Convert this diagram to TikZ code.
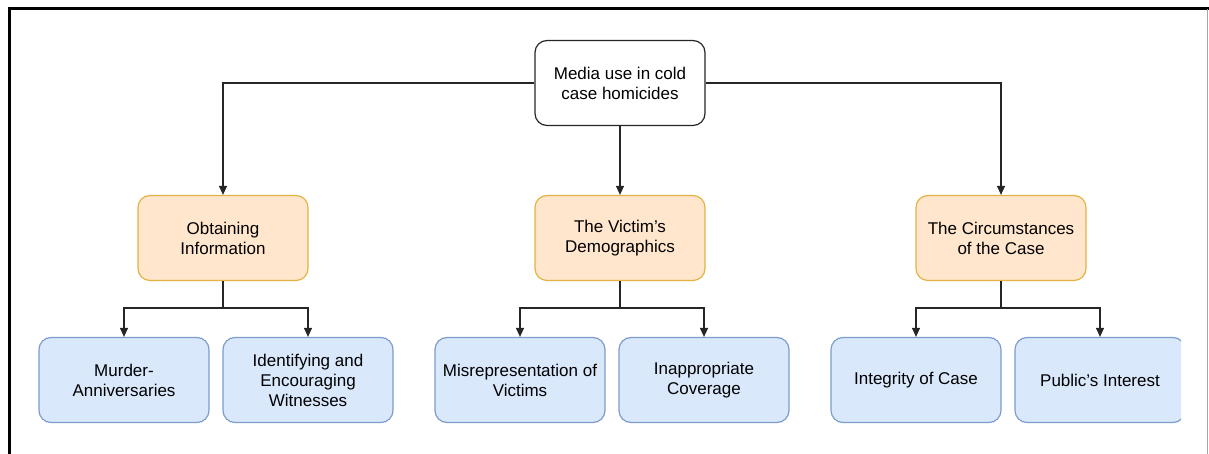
\documentclass[tikz,border=0pt]{standalone}
\usepackage{fontspec}
\setmainfont{Liberation Sans}
\usetikzlibrary{positioning,arrows.meta}
\definecolor{themefill}{HTML}{FFE6CC}
\definecolor{themeline}{HTML}{E3B341}
\definecolor{subfill}{HTML}{DAE8FC}
\definecolor{subline}{HTML}{7C9CCB}
\begin{document}
\begin{tikzpicture}[
  x=1pt, y=-1pt,
  box/.style={rectangle, rounded corners=12pt, minimum width=170pt, minimum height=85pt, align=center, line width=1.2pt, font=\fontsize{17}{20}\selectfont},
  root/.style={box, draw=black!85, fill=white},
  theme/.style={box, draw=themeline, fill=themefill},
  sub/.style={box, draw=subline, fill=subfill},
  link/.style={draw=black!85, line width=1.3pt, -{Triangle[length=9pt,width=8pt]}}
]
\useasboundingbox (0,0) rectangle (1209,454);

% Frame
\draw[line width=3pt] (9,456) -- (9,9) -- (1211,9);
\draw[black!35, line width=1pt] (1207.5,9) -- (1207.5,456);

% Root node
\node[root] (media) at (620,83) {Media use in cold\\case homicides};

% Level 1
\node[theme] (info) at (223,238) {Obtaining\\Information};
\node[theme] (demo) at (620,238) {The Victim's\\Demographics};
\node[theme] (circ) at (1001,238) {The Circumstances\\of the Case};

% Level 2
\node[sub] (murder) at (124,380) {Murder-\\Anniversaries};
\node[sub] (witness) at (308,380) {Identifying and\\Encouraging\\Witnesses};
\node[sub] (misrep) at (520,380) {Misrepresentation of\\Victims};
\node[sub] (coverage) at (704,380) {Inappropriate\\Coverage};
\node[sub] (integrity) at (916,380) {Integrity of Case};
\begin{scope}
  \clip (0,0) rectangle (1181,454);
  \node[sub] (public) at (1100,380) {Public's Interest};
\end{scope}

% Connectors
\draw[link] (media.west) -| (info.north);
\draw[link] (media.south) -- (demo.north);
\draw[link] (media.east) -| (circ.north);

\draw[link] (info.south) -- ++(0,27) -| (murder.north);
\draw[link] (info.south) -- ++(0,27) -| (witness.north);
\draw[link] (demo.south) -- ++(0,27) -| (misrep.north);
\draw[link] (demo.south) -- ++(0,27) -| (coverage.north);
\draw[link] (circ.south) -- ++(0,27) -| (integrity.north);
\draw[link] (circ.south) -- ++(0,27) -| (public.north);
\end{tikzpicture}
\end{document}
